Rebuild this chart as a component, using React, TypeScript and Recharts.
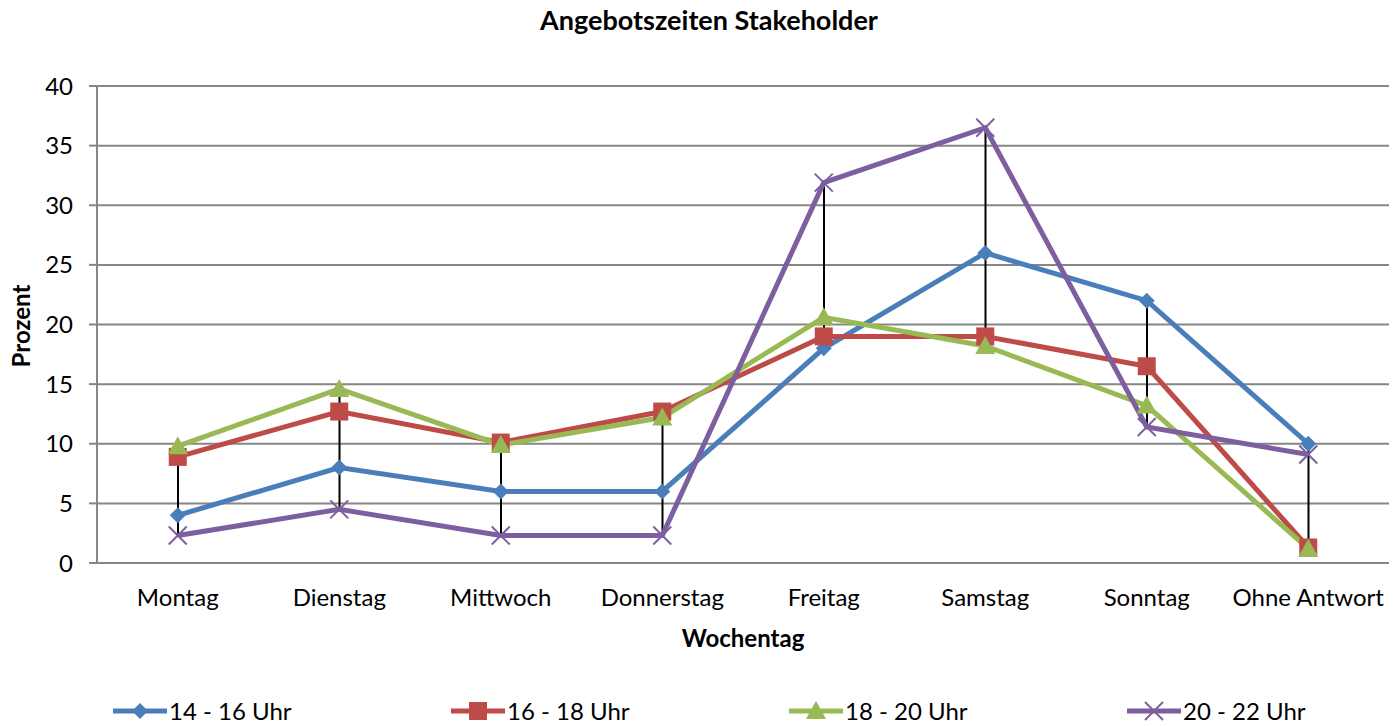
import {
  ComposedChart,
  Line,
  Bar,
  XAxis,
  YAxis,
  CartesianGrid,
} from "recharts";

const days = ["Montag", "Dienstag", "Mittwoch", "Donnerstag", "Freitag", "Samstag", "Sonntag", "Ohne Antwort"];
const uhr1416 = [4, 8, 6, 6, 18, 26, 22, 10];
const uhr1618 = [8.9, 12.7, 10.1, 12.7, 19, 19, 16.5, 1.3];
const uhr1820 = [9.8, 14.6, 9.9, 12.2, 20.6, 18.2, 13.2, 1.2];
const uhr2022 = [2.3, 4.5, 2.3, 2.3, 31.9, 36.5, 11.4, 9.1];
const yTicks = [0, 5, 10, 15, 20, 25, 30, 35, 40];

const series = [
  { key: "a", name: "14 - 16 Uhr", color: "#4a7ebb", shape: "diamond" },
  { key: "b", name: "16 - 18 Uhr", color: "#be4b48", shape: "square" },
  { key: "c", name: "18 - 20 Uhr", color: "#98b954", shape: "triangle" },
  { key: "d", name: "20 - 22 Uhr", color: "#7d5fa0", shape: "cross" },
];

const FONT = "Lato, 'Open Sans', sans-serif";

function Marker({ cx, cy, shape, color }: any) {
  if (cx == null || cy == null) return null;
  if (shape === "diamond") {
    const r = 8;
    return <polygon points={`${cx},${cy - r} ${cx + r},${cy} ${cx},${cy + r} ${cx - r},${cy}`} fill={color} />;
  }
  if (shape === "square") {
    const r = 9;
    return <rect x={cx - r} y={cy - r} width={2 * r} height={2 * r} fill={color} />;
  }
  if (shape === "triangle") {
    const r = 10;
    return <polygon points={`${cx},${cy - r} ${cx + r},${cy + r * 0.8} ${cx - r},${cy + r * 0.8}`} fill={color} />;
  }
  const r = 9;
  return (
    <g stroke={color} strokeWidth={2}>
      <line x1={cx - r} y1={cy - r} x2={cx + r} y2={cy + r} />
      <line x1={cx - r} y1={cy + r} x2={cx + r} y2={cy - r} />
    </g>
  );
}

const data = days.map((d, i) => {
  const vals = [uhr1416[i], uhr1618[i], uhr1820[i], uhr2022[i]];
  return {
    day: d,
    a: uhr1416[i],
    b: uhr1618[i],
    c: uhr1820[i],
    d: uhr2022[i],
    range: [Math.min(...vals), Math.max(...vals)],
  };
});

function LegendItem({ s }: any) {
  return (
    <div style={{ display: "flex", alignItems: "center" }}>
      <svg width={58} height={20}>
        <line x1={2} y1={10} x2={56} y2={10} stroke={s.color} strokeWidth={5} />
        <Marker cx={29} cy={10} shape={s.shape} color={s.color} />
      </svg>
      <span style={{ fontSize: 24, fontFamily: FONT, color: "#000", lineHeight: "28px" }}>{s.name}</span>
    </div>
  );
}

export default function App() {
  return (
    <div style={{ position: "absolute", left: 0, top: 0, width: 1394, height: 726, background: "#fff" }}>
      <div
        style={{
          position: "absolute",
          top: 4,
          left: 0,
          width: 1418,
          textAlign: "center",
          fontFamily: FONT,
          fontWeight: 700,
          fontSize: 27,
          lineHeight: "32px",
        }}
      >
        Angebotszeiten Stakeholder
      </div>
      <ComposedChart
        width={1394}
        height={726}
        data={data}
        margin={{ top: 86, right: 5, bottom: 73, left: 0 }}
        style={{ fontFamily: FONT }}
      >
        <CartesianGrid vertical={false} stroke="#868686" strokeWidth={2} />
        <XAxis
          dataKey="day"
          tickLine={false}
          axisLine={{ stroke: "#868686", strokeWidth: 2 }}
          tick={{ fill: "#000", fontSize: 24 }}
          tickMargin={20}
          height={90}
          label={{ value: "Wochentag", position: "insideBottom", offset: 6, fill: "#000", fontSize: 24, fontWeight: 700 }}
        />
        <YAxis
          domain={[0, 40]}
          ticks={yTicks}
          interval={0}
          width={97}
          tickSize={8}
          tickMargin={16}
          tickLine={{ stroke: "#868686", strokeWidth: 2 }}
          axisLine={{ stroke: "#868686", strokeWidth: 2 }}
          tick={{ fill: "#000", fontSize: 24 }}
          label={{
            content: () => (
              <text
                x={0}
                y={0}
                transform="translate(30, 326) rotate(-90)"
                textAnchor="middle"
                fontSize={24}
                fontWeight={700}
                fill="#000"
                fontFamily={FONT}
              >
                Prozent
              </text>
            ),
          }}
        />
        {series.map((s) => (
          <Line
            key={s.key}
            dataKey={s.key}
            name={s.name}
            stroke={s.color}
            strokeWidth={5}
            isAnimationActive={false}
            dot={(p: any) => <Marker key={`${s.key}-${p.index}`} cx={p.cx} cy={p.cy} shape={s.shape} color={s.color} />}
            activeDot={false}
          />
        ))}
        <Bar dataKey="range" fill="#000" barSize={2} isAnimationActive={false} />
      </ComposedChart>
      <div
        style={{
          position: "absolute",
          top: 697,
          left: 111,
          display: "flex",
        }}
      >
        {series.map((s) => (
          <div key={s.key} style={{ width: 338 }}>
            <LegendItem s={s} />
          </div>
        ))}
      </div>
    </div>
  );
}
